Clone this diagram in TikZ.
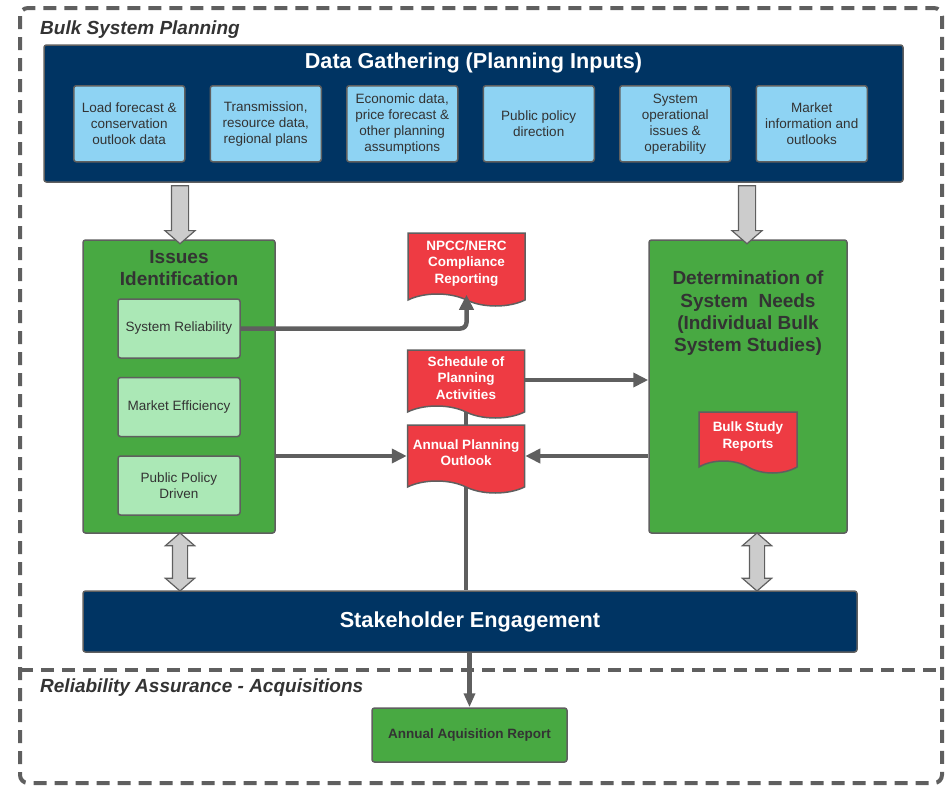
\documentclass[tikz,border=0pt]{standalone}
\usepackage{fontspec}
\setmainfont{Liberation Sans}
\usetikzlibrary{shapes.symbols, shapes.arrows, arrows.meta, positioning, calc}

\pgfdeclarelayer{background}
\pgfsetlayers{background,main}

\definecolor{navyBlue}{RGB}{0,52,99}
\definecolor{inputBlue}{RGB}{142,211,243}
\definecolor{panelGreen}{RGB}{72,169,66}
\definecolor{paleGreen}{RGB}{171,232,182}
\definecolor{docRed}{RGB}{238,59,67}
\definecolor{edgeGray}{RGB}{95,95,95}
\definecolor{arrowGray}{RGB}{204,204,204}
\definecolor{textGray}{RGB}{51,51,51}

\tikzset{
	panel/.style={draw=edgeGray, line width=1.5pt, rounded corners=2.5pt, inner sep=0pt},
	navyPanel/.style={panel, fill=navyBlue},
	greenPanel/.style={panel, fill=panelGreen},
	inputBox/.style={panel, fill=inputBlue, minimum width=111pt, minimum height=76pt, align=center, text=textGray, font=\fontsize{13.5}{16}\selectfont},
	subBox/.style={panel, fill=paleGreen, minimum width=122pt, minimum height=59pt, align=center, text=textGray, font=\fontsize{13.5}{16}\selectfont},
	docBox/.style={tape, tape bend top=none, tape bend bottom=out and in, tape bend height=12pt, draw=edgeGray, line width=1.5pt, fill=docRed, text=white, align=center, inner sep=0pt, minimum width=117pt, font=\bfseries\fontsize{13.5}{16.3}\selectfont},
	panelTitle/.style={align=center, inner sep=0pt, text=textGray, font=\bfseries\fontsize{19}{22.3}\selectfont},
	zoneTitle/.style={anchor=west, inner sep=0pt, text=textGray, font=\bfseries\itshape\fontsize{19}{22}\selectfont},
	flowLine/.style={draw=edgeGray, line width=4.5pt, -{Triangle[length=15pt,width=14pt]}},
	plainLine/.style={draw=edgeGray, line width=4.5pt},
	bulkArrow/.style={single arrow, draw=edgeGray, line width=1.2pt, fill=arrowGray, inner xsep=0pt, inner ysep=8pt, single arrow head extend=6.5pt, single arrow tip angle=98, minimum height=58pt, rotate=-90},
	bothArrow/.style={double arrow, draw=edgeGray, line width=1.2pt, fill=arrowGray, inner xsep=0pt, inner ysep=7pt, double arrow head extend=7pt, double arrow tip angle=98, minimum height=58pt, rotate=-90},
	frameLine/.style={draw=edgeGray, line width=4pt, dash pattern=on 13pt off 8pt}
}

\begin{document}
\begin{tikzpicture}[x=1pt, y=-1pt]
	\useasboundingbox (0,0) rectangle (946,787);

	% Dashed planning zones
	\draw[frameLine, rounded corners=8pt] (20,8) rectangle (942,783);
	\draw[frameLine] (20,670) -- (942,670);
	\node[zoneTitle] (bulkTitle) at (40,30) {Bulk System Planning};
	\node[zoneTitle] (relTitle) at (40,688) {Reliability Assurance - Acquisitions};

	% Data gathering panel and its inputs
	\node[navyPanel, minimum width=859pt, minimum height=137pt] (dataGather) at (473.5,113.5) {};
	\node[inner sep=0pt, text=white, font=\bfseries\fontsize{21.6}{24}\selectfont] (dataTitle) at (473.5,63) {Data Gathering (Planning Inputs)};
	\node[inputBox, anchor=north west] (inLoad) at (73,85) {Load forecast \&\\conservation\\outlook data};
	\node[inputBox, right=24pt of inLoad] (inTrans) {Transmission,\\resource data,\\regional plans};
	\node[inputBox, right=24pt of inTrans] (inEcon) {Economic data,\\price forecast \&\\other planning\\assumptions};
	\node[inputBox, right=24pt of inEcon] (inPolicy) {Public policy\\direction};
	\node[inputBox, right=24pt of inPolicy] (inOps) {System\\operational\\issues \&\\operability};
	\node[inputBox, right=24pt of inOps] (inMarket) {Market\\information and\\outlooks};

	% Issues identification
	\node[greenPanel, minimum width=192pt, minimum height=293pt] (issues) at (179,386.5) {};
	\node[panelTitle] (issuesTitle) at (179,268) {Issues\\Identification};
	\node[subBox] (sysRel) at (179,328.5) {System Reliability};
	\node[subBox, below=18pt of sysRel] (mktEff) {Market Efficiency};
	\node[subBox, below=18pt of mktEff] (polDriven) {Public Policy\\Driven};

	% Determination of system needs
	\node[greenPanel, minimum width=198pt, minimum height=293pt] (determ) at (748,386.5) {};
	\node[panelTitle] (determTitle) at (748,313.5) {Determination of\\System\ \ Needs\\(Individual Bulk\\System Studies)};
	\node[docBox, minimum width=98pt, minimum height=61pt] (bulkRep) at (748,436.5) {Bulk Study\\Reports};

	% Reports in the middle
	\node[docBox, minimum height=73pt] (npcc) at (466.5,263.5) {NPCC/NERC\\Compliance\\Reporting};
	\node[docBox, minimum height=68pt] (schedule) at (466,378) {Schedule of\\Planning\\Activities};
	\node[docBox, minimum height=68pt] (annual) at (466,453) {Annual Planning\\Outlook};

	% Stakeholders and acquisitions
	\node[navyPanel, minimum width=774pt, minimum height=61pt, text=white, font=\bfseries\fontsize{21.7}{24}\selectfont] (stake) at (470,621.5) {Stakeholder Engagement};
	\node[greenPanel, minimum width=195pt, minimum height=54pt, text=textGray, font=\bfseries\fontsize{13.5}{16}\selectfont] (acquis) at (469.5,735) {Annual Aquisition Report};

	% Grey block arrows
	\node[bulkArrow] (inToIssues) at (180,211) {};
	\node[bulkArrow] (inToDeterm) at (747,211) {};
	\node[bothArrow] (issuesStake) at (180,562) {};
	\node[bothArrow] (determStake) at (757,562) {};

	% Flow connectors
	\begin{pgfonlayer}{background}
		\draw[plainLine] (schedule.center) -- (schedule.center |- stake.north);
	\end{pgfonlayer}
	\draw[flowLine, rounded corners=6pt] (sysRel.east) -| (npcc.south);
	\draw[flowLine] ([yshift=-2pt]schedule.east) -- ([yshift=-2pt]schedule.east -| determ.west);
	\draw[flowLine] ([yshift=-3pt]issues.east |- annual.west) -- ([yshift=-3pt]annual.west);
	\draw[flowLine] ([yshift=-3pt]determ.west |- annual.east) -- ([yshift=-3pt]annual.east);
	\draw[flowLine, -{Triangle[length=14pt,width=11pt]}] (stake.south -| acquis.north) -- (acquis.north);
\end{tikzpicture}
\end{document}
